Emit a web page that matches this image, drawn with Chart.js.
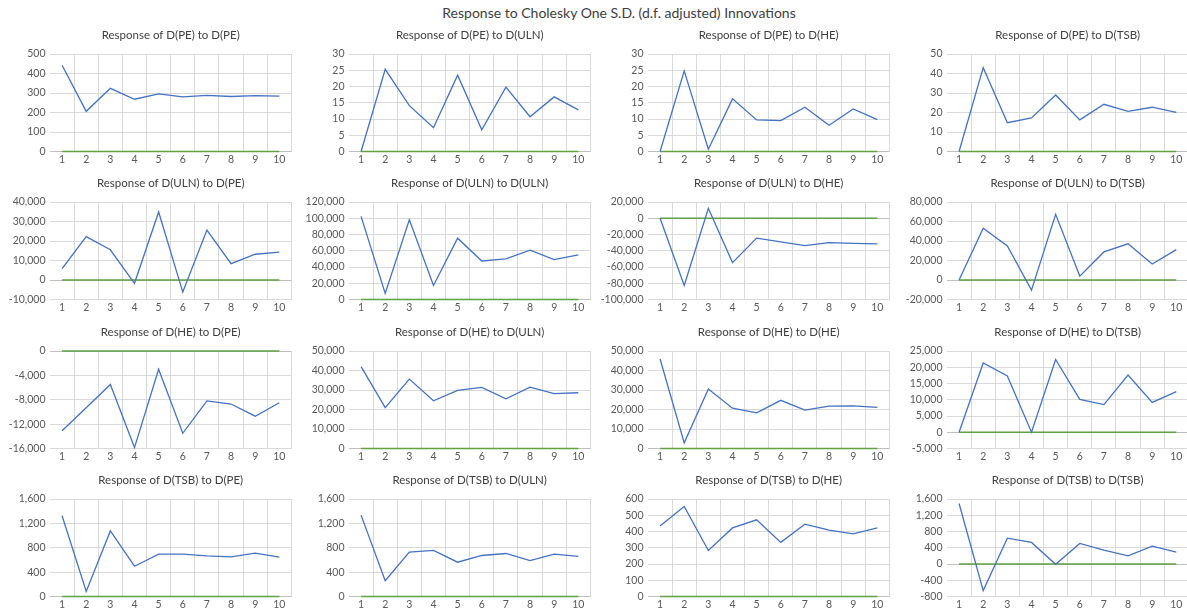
<!DOCTYPE html>
<html>
<head>
<meta charset="utf-8">
<script src="https://cdn.jsdelivr.net/npm/chart.js@4.4.1/dist/chart.umd.min.js"></script>
<style>
  html, body { margin: 0; padding: 0; background: #ffffff; }
  body { position: relative; width: 1187px; height: 610px; overflow: hidden; }
  #mainTitle {
    position: absolute; top: 4px; left: 619px; transform: translateX(-50%);
    font: 14px Lato, "Open Sans", sans-serif; line-height: 17px; color: #404040; white-space: nowrap;
  }
  canvas { position: absolute; }
</style>
</head>
<body>
<div id="mainTitle">Response to Cholesky One S.D. (d.f. adjusted) Innovations</div>
<script>
// Forecast periods on the horizontal axis
const periods = ['1', '2', '3', '4', '5', '6', '7', '8', '9', '10'];

// Reference line at zero drawn in every panel
const zeroLine = [0, 0, 0, 0, 0, 0, 0, 0, 0, 0];

// Impulse responses, one array per (response, shock) pair
const pe_to_pe   = [442, 206, 324, 268, 295, 280, 288, 282, 287, 284];
const pe_to_uln  = [0, 25.3, 14.1, 7.3, 23.5, 6.7, 19.8, 10.7, 16.8, 12.8];
const pe_to_he   = [0, 24.8, 0.7, 16.2, 9.7, 9.5, 13.6, 8.1, 13.1, 9.8];
const pe_to_tsb  = [0, 43.0, 14.8, 17.2, 29.0, 16.2, 24.2, 20.6, 22.7, 20.1];

const uln_to_pe  = [5800, 22200, 15500, -1700, 34900, -6200, 25600, 8400, 13200, 14300];
const uln_to_uln = [102300, 7400, 98100, 17300, 75500, 47400, 49900, 60600, 49100, 54800];
const uln_to_he  = [0, -82700, 12200, -54600, -24500, -29000, -33800, -29900, -30900, -31600];
const uln_to_tsb = [0, 53200, 35000, -10400, 67300, 4000, 28800, 37100, 16400, 31200];

const he_to_pe   = [-13100, -9300, -5500, -15850, -3000, -13500, -8200, -8700, -10700, -8500];
const he_to_uln  = [42000, 21000, 35600, 24500, 29800, 31300, 25500, 31500, 28100, 28600];
const he_to_he   = [45900, 2900, 30500, 20700, 18300, 24700, 19700, 21700, 21900, 21100];
const he_to_tsb  = [0, 21300, 17300, 0, 22400, 10100, 8500, 17600, 9200, 12500];

const tsb_to_pe  = [1324, 83, 1076, 497, 696, 696, 668, 651, 712, 646];
const tsb_to_uln = [1335, 259, 728, 756, 563, 673, 706, 590, 695, 657];
const tsb_to_he  = [434, 554, 283, 422, 472, 333, 445, 408, 385, 422];
const tsb_to_tsb = [1490, -654, 637, 530, -8, 505, 340, 199, 439, 290];

// Panel titles, row by row
const panelTitles = [
  'Response of D(PE) to D(PE)', 'Response of D(PE) to D(ULN)', 'Response of D(PE) to D(HE)', 'Response of D(PE) to D(TSB)',
  'Response of D(ULN) to D(PE)', 'Response of D(ULN) to D(ULN)', 'Response of D(ULN) to D(HE)', 'Response of D(ULN) to D(TSB)',
  'Response of D(HE) to D(PE)', 'Response of D(HE) to D(ULN)', 'Response of D(HE) to D(HE)', 'Response of D(HE) to D(TSB)',
  'Response of D(TSB) to D(PE)', 'Response of D(TSB) to D(ULN)', 'Response of D(TSB) to D(HE)', 'Response of D(TSB) to D(TSB)'
];

const panelSeries = [
  pe_to_pe, pe_to_uln, pe_to_he, pe_to_tsb,
  uln_to_pe, uln_to_uln, uln_to_he, uln_to_tsb,
  he_to_pe, he_to_uln, he_to_he, he_to_tsb,
  tsb_to_pe, tsb_to_uln, tsb_to_he, tsb_to_tsb
];

// Value-axis ranges and tick spacing per panel
const axisMin  = [0, 0, 0, 0,  -10000, 0, -100000, -20000,  -16000, 0, 0, -5000,  0, 0, 0, -800];
const axisMax  = [500, 30, 30, 50,  40000, 120000, 20000, 80000,  0, 50000, 50000, 25000,  1600, 1600, 600, 1600];
const axisStep = [100, 5, 5, 10,  10000, 20000, 20000, 20000,  4000, 10000, 10000, 5000,  400, 400, 100, 400];

Chart.defaults.font.family = 'Lato, "Open Sans", sans-serif';
Chart.defaults.color = '#595959';

const BLUE = '#4472C4';
const GREEN = '#62A044';
const GRID = '#d9d9d9';

// Grid geometry
const COL_PITCH = 299, ROW_PITCH = 148.4;
const PLOT_LEFT0 = 50, PLOT_TOP0 = 54;
const Y_AXIS_W = 50, PLOT_W = 241.4, PLOT_H = 97.5;
const TITLE_H = 40, CANVAS_W = 294, CANVAS_H = 154;

panelSeries.forEach((series, i) => {
  const row = Math.floor(i / 4), col = i % 4;
  const canvas = document.createElement('canvas');
  canvas.width = CANVAS_W;
  canvas.height = CANVAS_H;
  canvas.style.left = (PLOT_LEFT0 + col * COL_PITCH - Y_AXIS_W) + 'px';
  canvas.style.top = (PLOT_TOP0 + row * ROW_PITCH - TITLE_H) + 'px';
  document.body.appendChild(canvas);

  new Chart(canvas, {
    type: 'line',
    data: {
      labels: periods,
      datasets: [
        { data: series, borderColor: BLUE, borderWidth: 1.3, pointRadius: 0, tension: 0, fill: false, clip: 4 },
        { data: zeroLine, borderColor: GREEN, borderWidth: 1.6, pointRadius: 0, tension: 0, fill: false, clip: 4 }
      ]
    },
    options: {
      responsive: false,
      animation: false,
      devicePixelRatio: 1,
      layout: { padding: { left: 0, right: CANVAS_W - Y_AXIS_W - PLOT_W, top: 0, bottom: 0 } },
      plugins: {
        legend: { display: false },
        tooltip: { enabled: false },
        title: {
          display: true,
          text: panelTitles[i],
          fullSize: false,
          color: '#404040',
          font: { size: 11.5, weight: 'normal', lineHeight: 1.2 },
          padding: { top: 14.6, bottom: 11.6 }
        }
      },
      scales: {
        x: {
          type: 'category',
          offset: true,
          border: { display: false },
          grid: {
            offset: true,
            drawTicks: false,
            lineWidth: 1,
            color: (ctx) => ctx.index === 0 ? 'rgba(0,0,0,0)' : GRID
          },
          ticks: { autoSkip: false, maxRotation: 0, padding: 1.5, font: { size: 10.5, lineHeight: 1.2 } },
          afterFit: (scale) => { scale.height = CANVAS_H - TITLE_H - PLOT_H; }
        },
        y: {
          min: axisMin[i],
          max: axisMax[i],
          border: { display: false },
          grid: {
            drawTicks: false,
            lineWidth: 1,
            color: (ctx) => (ctx.tick && ctx.tick.value === 0) ? '#bfbfbf' : GRID
          },
          ticks: {
            stepSize: axisStep[i],
            padding: 4.5,
            font: { size: 10.5 },
            callback: (v) => Number(v).toLocaleString('en-US')
          },
          afterFit: (scale) => { scale.width = Y_AXIS_W; }
        }
      }
    }
  });
});
</script>
</body>
</html>
